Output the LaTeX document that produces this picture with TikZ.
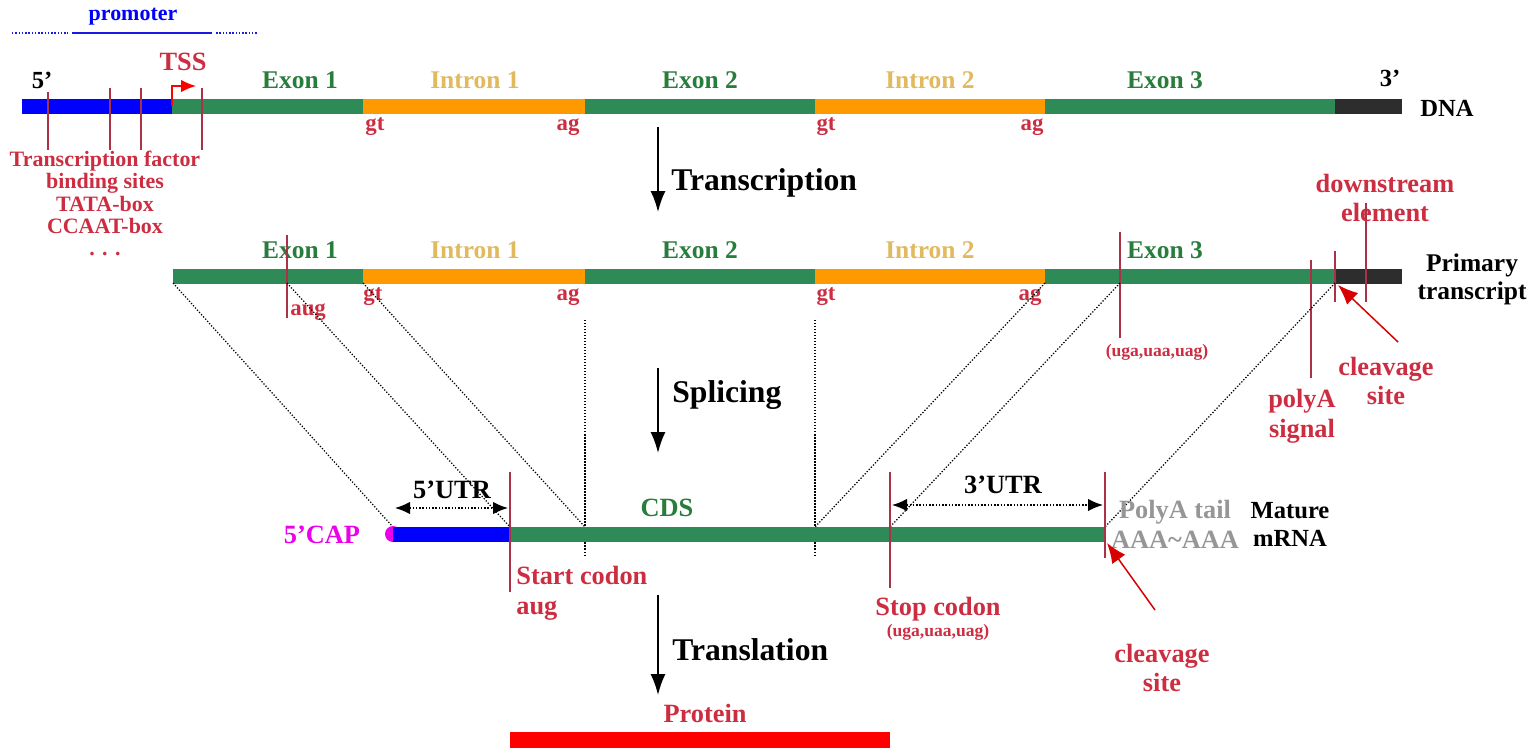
\documentclass[tikz,border=0pt]{standalone}
\usepackage{fontspec}
\setmainfont{Liberation Serif}
\usepackage{tikz}
\usepackage{xcolor}
\usetikzlibrary{arrows.meta}

\definecolor{exongreen}{RGB}{46,139,87}
\definecolor{intronorange}{RGB}{255,153,0}
\definecolor{promblue}{RGB}{0,0,255}
\definecolor{taildark}{RGB}{45,45,45}
\definecolor{labred}{RGB}{205,45,65}
\definecolor{siteline}{RGB}{170,50,70}
\definecolor{exontext}{RGB}{40,125,60}
\definecolor{introntext}{RGB}{225,185,95}
\definecolor{capmagenta}{RGB}{235,0,235}
\definecolor{polygray}{RGB}{150,150,150}

\tikzset{
  bar/.style={line width=0.3cm},
  txt/.style={font=\bfseries\fontsize{15}{17}\selectfont, inner sep=0pt},
  exlbl/.style={txt, color=exontext, font=\bfseries\fontsize{14.5}{16}\selectfont},
  inlbl/.style={txt, color=introntext, font=\bfseries\fontsize{14.5}{16}\selectfont},
  redlbl/.style={txt, color=labred, align=center},
  splbl/.style={txt, color=labred, font=\bfseries\fontsize{13}{15}\selectfont},
  stagelbl/.style={txt, anchor=west, font=\bfseries\fontsize{18}{20}\selectfont},
  site/.style={siteline, line width=0.025cm},
  splice/.style={densely dotted, line width=0.025cm},
  stage/.style={line width=0.035cm, -{Latex[length=0.42cm,width=0.3cm]}},
  utr/.style={densely dotted, line width=0.03cm, {Latex[length=0.3cm,width=0.25cm]}-{Latex[length=0.3cm,width=0.25cm]}},
  cleave/.style={siteline, line width=0.03cm, -{Latex[length=0.4cm,width=0.32cm]}, color=red!85!black}
}

\begin{document}
\begin{tikzpicture}[x=0.02cm,y=-0.02cm]
\useasboundingbox (0,0) rectangle (1530,748);

% promoter
\node (prom) [txt, color=promblue, font=\bfseries\fontsize{12.5}{14}\selectfont] at (133,17) {promoter};
\draw [promblue!80!gray, densely dotted, line width=0.03cm] (12,33) -- (68,33);
\draw [promblue!80!gray, line width=0.03cm] (72,33) -- (212,33);
\draw [promblue!80!gray, densely dotted, line width=0.03cm] (216,33) -- (258,33);

% DNA
\draw [promblue, bar] (22,106) -- (172,106);
\draw [exongreen, bar] (172,106) -- (363,106);
\draw [intronorange, bar] (363,106) -- (585,106);
\draw [exongreen, bar] (585,106) -- (815,106);
\draw [intronorange, bar] (815,106) -- (1045,106);
\draw [exongreen, bar] (1045,106) -- (1335,106);
\draw [taildark, bar] (1335,106) -- (1402,106);

\node (five) [txt, font=\bfseries\fontsize{14}{16}\selectfont] at (42,80) {5'};
\node (three) [txt, font=\bfseries\fontsize{14}{16}\selectfont] at (1390,78) {3'};
\node (dna) [txt, font=\bfseries\fontsize{14}{16}\selectfont] at (1447,108) {DNA};
\node (ex1) [exlbl] at (300,80) {Exon 1};
\node (in1) [inlbl] at (475,80) {Intron 1};
\node (ex2) [exlbl] at (700,80) {Exon 2};
\node (in2) [inlbl] at (930,80) {Intron 2};
\node (ex3) [exlbl] at (1165,80) {Exon 3};
\node (gt1) [splbl] at (375,127) {gt};
\node (ag1) [splbl] at (568,127) {ag};
\node (gt2) [splbl] at (826,127) {gt};
\node (ag2) [splbl] at (1032,127) {ag};

\draw [site] (48,92) -- (48,150);
\draw [site] (110,88) -- (110,150);
\draw [site] (141,88) -- (141,150);
\draw [site] (202,88) -- (202,150);
\coordinate (tss) at (172,106);
\draw [red, line width=0.03cm, -{Latex[length=0.3cm,width=0.25cm]}] (tss) -- (172,86) -- (196,86);
\node (tsslbl) [redlbl] at (183,62) {TSS};
\node (tfbs) [redlbl, anchor=north, font=\bfseries\fontsize{12.5}{12.6}\selectfont] at (105,151)
  {Transcription factor\\binding sites\\TATA-box\\CCAAT-box\\. . .};

% transcription
\coordinate (tr1) at (658,127);
\coordinate (tr2) at (658,212);
\draw [stage] (tr1) -- (tr2);
\node (trlbl) [stagelbl] at (671,183) {Transcription};

% primary transcript
\draw [exongreen, bar] (173,276) -- (363,276);
\draw [intronorange, bar] (363,276) -- (585,276);
\draw [exongreen, bar] (585,276) -- (815,276);
\draw [intronorange, bar] (815,276) -- (1045,276);
\draw [exongreen, bar] (1045,276) -- (1335,276);
\draw [taildark, bar] (1335,276) -- (1402,276);

\node (pex1) [exlbl] at (300,250) {Exon 1};
\node (pin1) [inlbl] at (475,250) {Intron 1};
\node (pex2) [exlbl] at (700,250) {Exon 2};
\node (pin2) [inlbl] at (930,250) {Intron 2};
\node (pex3) [exlbl] at (1165,250) {Exon 3};
\node (pgt1) [splbl] at (373,297) {gt};
\node (pag1) [splbl] at (568,297) {ag};
\node (pgt2) [splbl] at (826,297) {gt};
\node (pag2) [splbl] at (1030,297) {ag};
\node (prim) [txt, align=center, font=\bfseries\fontsize{14.5}{16}\selectfont] at (1472,279) {Primary\\transcript};

\draw [site] (287,235) -- (287,318);
\node (paug) [splbl, anchor=west] at (290,312) {aug};
\draw [site] (1120,232) -- (1120,338);
\node (pstop) [txt, color=labred, font=\bfseries\fontsize{10}{12}\selectfont] at (1157,352) {(uga,uaa,uag)};
\draw [site] (1311,260) -- (1311,378);
\node (polyas) [redlbl] at (1302,416) {polyA\\signal};
\draw [site] (1335,251) -- (1335,302);
\draw [site] (1366,203) -- (1366,302);
\node (dse) [redlbl] at (1385,198) {downstream\\element};
\coordinate (pcl) at (1338,285);
\coordinate (pclt) at (1398,342);
\draw [cleave] (pclt) -- (pcl);
\node (pcllbl) [redlbl] at (1386,381) {cleavage\\site};

% splicing
\coordinate (sp1) at (658,368);
\coordinate (sp2) at (658,453);
\draw [stage] (sp1) -- (sp2);
\node (splbl) [stagelbl] at (672,395) {Splicing};

\coordinate (a1) at (173,283);
\coordinate (a2) at (287,283);
\coordinate (a3) at (363,283);
\coordinate (a4) at (585,320);
\coordinate (a5) at (815,320);
\coordinate (a6) at (1045,283);
\coordinate (a7) at (1120,283);
\coordinate (a8) at (1335,283);
\coordinate (b1) at (393,527);
\coordinate (b2) at (510,527);
\coordinate (b3) at (585,527);
\coordinate (b4) at (585,557);
\coordinate (b5) at (815,557);
\coordinate (b6) at (815,527);
\coordinate (b7) at (890,527);
\coordinate (b8) at (1105,527);
\draw [splice] (a1) -- (b1);
\draw [splice] (a2) -- (b2);
\draw [splice] (a3) -- (b3);
\draw [splice] (a4) -- (b4);
\draw [splice] (a5) -- (b5);
\draw [splice] (a6) -- (b6);
\draw [splice] (a7) -- (b7);
\draw [splice] (a8) -- (b8);

% mature mRNA
\fill [capmagenta] (393,534) circle (0.16cm);
\draw [promblue, bar] (393,534) -- (510,534);
\draw [exongreen, bar] (510,534) -- (1105,534);
\node (cap) [txt, color=capmagenta] at (322,535) {5'CAP};
\node (cds) [txt, color=exontext] at (667,508) {CDS};
\node (tail) [txt, color=polygray, align=center] at (1175,524) {PolyA tail\\AAA\char`\~AAA};
\node (mat) [txt, align=center, font=\bfseries\fontsize{14}{16}\selectfont] at (1290,524) {Mature\\mRNA};

\draw [site] (510,472) -- (510,592);
\node (start) [redlbl, anchor=north west, align=left] at (516,566) {Start codon\\aug};
\draw [site] (890,472) -- (890,588);
\node (stop) [redlbl, anchor=north] at (938,597) {Stop codon};
\node (stopc) [txt, color=labred, font=\bfseries\fontsize{10}{12}\selectfont] at (938,632) {(uga,uaa,uag)};
\draw [site] (1105,472) -- (1105,558);
\coordinate (u5a) at (395,508);
\coordinate (u5b) at (508,508);
\draw [utr] (u5a) -- (u5b);
\node (u5) [txt] at (452,490) {5'UTR};
\coordinate (u3a) at (892,505);
\coordinate (u3b) at (1103,505);
\draw [utr] (u3a) -- (u3b);
\node (u3) [txt] at (1003,485) {3'UTR};
\coordinate (mcl) at (1107,543);
\coordinate (mclt) at (1155,610);
\draw [cleave] (mclt) -- (mcl);
\node (mcllbl) [redlbl] at (1162,668) {cleavage\\site};

% translation
\coordinate (tl1) at (658,595);
\coordinate (tl2) at (658,695);
\draw [stage] (tl1) -- (tl2);
\node (tllbl) [stagelbl] at (672,650) {Translation};

% protein
\node (prot) [redlbl] at (705,713) {Protein};
\fill [red] (510,732) rectangle (890,748);

\end{tikzpicture}
\end{document}
